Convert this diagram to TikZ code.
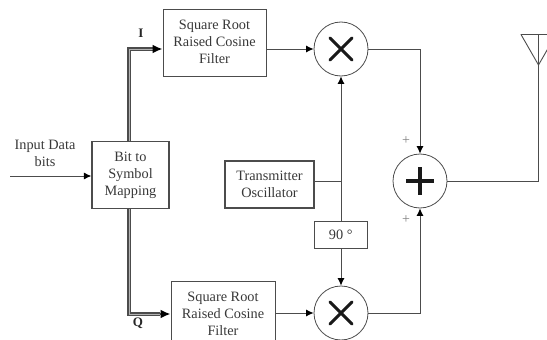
\documentclass[tikz,border=0pt]{standalone}
\usepackage{fontspec}
\setmainfont{Liberation Serif}
\usetikzlibrary{arrows.meta}
\definecolor{ln}{gray}{0.3}
\definecolor{tx}{gray}{0.22}
\newcommand{\liftline}[2]{\raisebox{#1}{#2}}
\tikzset{x=1pt,y=-1pt,
 blockbox/.style={draw=ln,line width=.9pt,align=center,text=tx,font=\fontsize{14.3}{17}\selectfont,inner sep=0pt},
 heavybox/.style={blockbox,line width=1.7pt},
 opcircle/.style={circle,draw=ln,line width=.8pt,minimum size=54pt,inner sep=0pt},
 wire/.style={draw=ln,line width=.9pt},
 arrowwire/.style={wire,-{Latex[length=7.5pt,width=7pt,color=black]}},
 dualwire/.style={draw=ln,line width=1.2pt,double=gray!60,double distance=.9pt},
 dualtip/.style={-{Latex[length=10pt,width=9pt,color=black]},line width=2.4pt,draw=ln},
 plain/.style={text=tx,font=\fontsize{14.3}{17}\selectfont,align=center,inner sep=0pt},
 tag/.style={text=black!85,font=\bfseries\fontsize{13}{14}\selectfont,inner sep=0pt},
 sign/.style={text=gray,font=\fontsize{14}{14}\selectfont,inner sep=0pt},
 symb/.style={line width=3pt,black!90,line cap=round}}
\begin{document}
\begin{tikzpicture}
\useasboundingbox (0,0) rectangle (547,340);
\clip (0,0) rectangle (547,340);
\node[blockbox,minimum width=103pt,minimum height=66.5pt] (f1) at (214.5,43) {\liftline{1.5pt}{Square Root}\\\liftline{1.5pt}{Raised Cosine}\\\liftline{1.5pt}{Filter}};
\node[heavybox,minimum width=76.5pt,minimum height=67pt] (map) at (130.5,175) {Bit to\\Symbol\\Mapping};
\node[blockbox,minimum width=104pt,minimum height=66pt] (f2) at (223,314) {\liftline{1pt}{Square Root}\\\liftline{1pt}{Raised Cosine}\\\liftline{1pt}{Filter}};
\node[blockbox,line width=1.1pt,minimum width=89pt,minimum height=47pt] (osc) at (269.5,184.5) {Transmitter\\Oscillator};
\node[blockbox,minimum width=53.5pt,minimum height=27pt] (ps) at (340.7,234.5) {90 °};
\node[opcircle] (m1) at (341,49) {};
\node[opcircle] (m2) at (341,313) {};
\node[opcircle] (add) at (420,181) {};
\draw[symb] (m1.center)+(-11,-11) -- +(11,11) (m1.center)+(-11,11) -- +(11,-11);
\draw[symb] (m2.center)+(-11,-11) -- +(11,11) (m2.center)+(-11,11) -- +(11,-11);
\draw[symb,line cap=butt,line width=3.4pt] (add.center)+(-14,0) -- +(14,0) (add.center)+(0,-14) -- +(0,14);
\node[plain] (inp) at (45,153) {Input Data\\bits};
\coordinate (inS) at (10,176);
\draw[arrowwire] (inS) -- (inS -| map.west);
\coordinate (ib) at (129,49);
\coordinate (qb) at (129,314);
\coordinate (ie) at (155,49);
\coordinate (qe) at (160,314);
\draw[dualwire] (map.north -| ib) -- (ib) -- (ie);
\draw[dualwire] (map.south -| qb) -- (qb) -- (qe);
\draw[dualtip] (ie) -- (f1.west |- ib);
\draw[dualtip] (qe) -- (f2.west |- qb);
\node[tag] (ilab) at (141,33) {I};
\node[tag] (qlab) at (138,323) {Q};
\draw[arrowwire] (f1.east |- m1) -- (m1.west);
\draw[arrowwire] (f2.east |- m2) -- (m2.west);
\coordinate (j) at (341,181);
\draw[wire] (osc.east |- j) -- (j);
\draw[arrowwire] (ps.north -| j) -- (m1.south);
\draw[arrowwire] (ps.south -| m2) -- (m2.north);
\draw[arrowwire] (m1.east) -| (add.north);
\draw[arrowwire] (m2.east) -| (add.south);
\node[sign] (p1) at (406,141) {+};
\node[sign] (p2) at (406,220) {+};
\coordinate (tip) at (538.5,65);
\coordinate (antL) at (521,34.5);
\coordinate (antR) at (556,34.5);
\draw[wire,line join=round] (antR) -- (antL) -- (tip) -- (antR);
\draw[wire] (add.east) -| (tip |- antL);
\end{tikzpicture}
\end{document}
